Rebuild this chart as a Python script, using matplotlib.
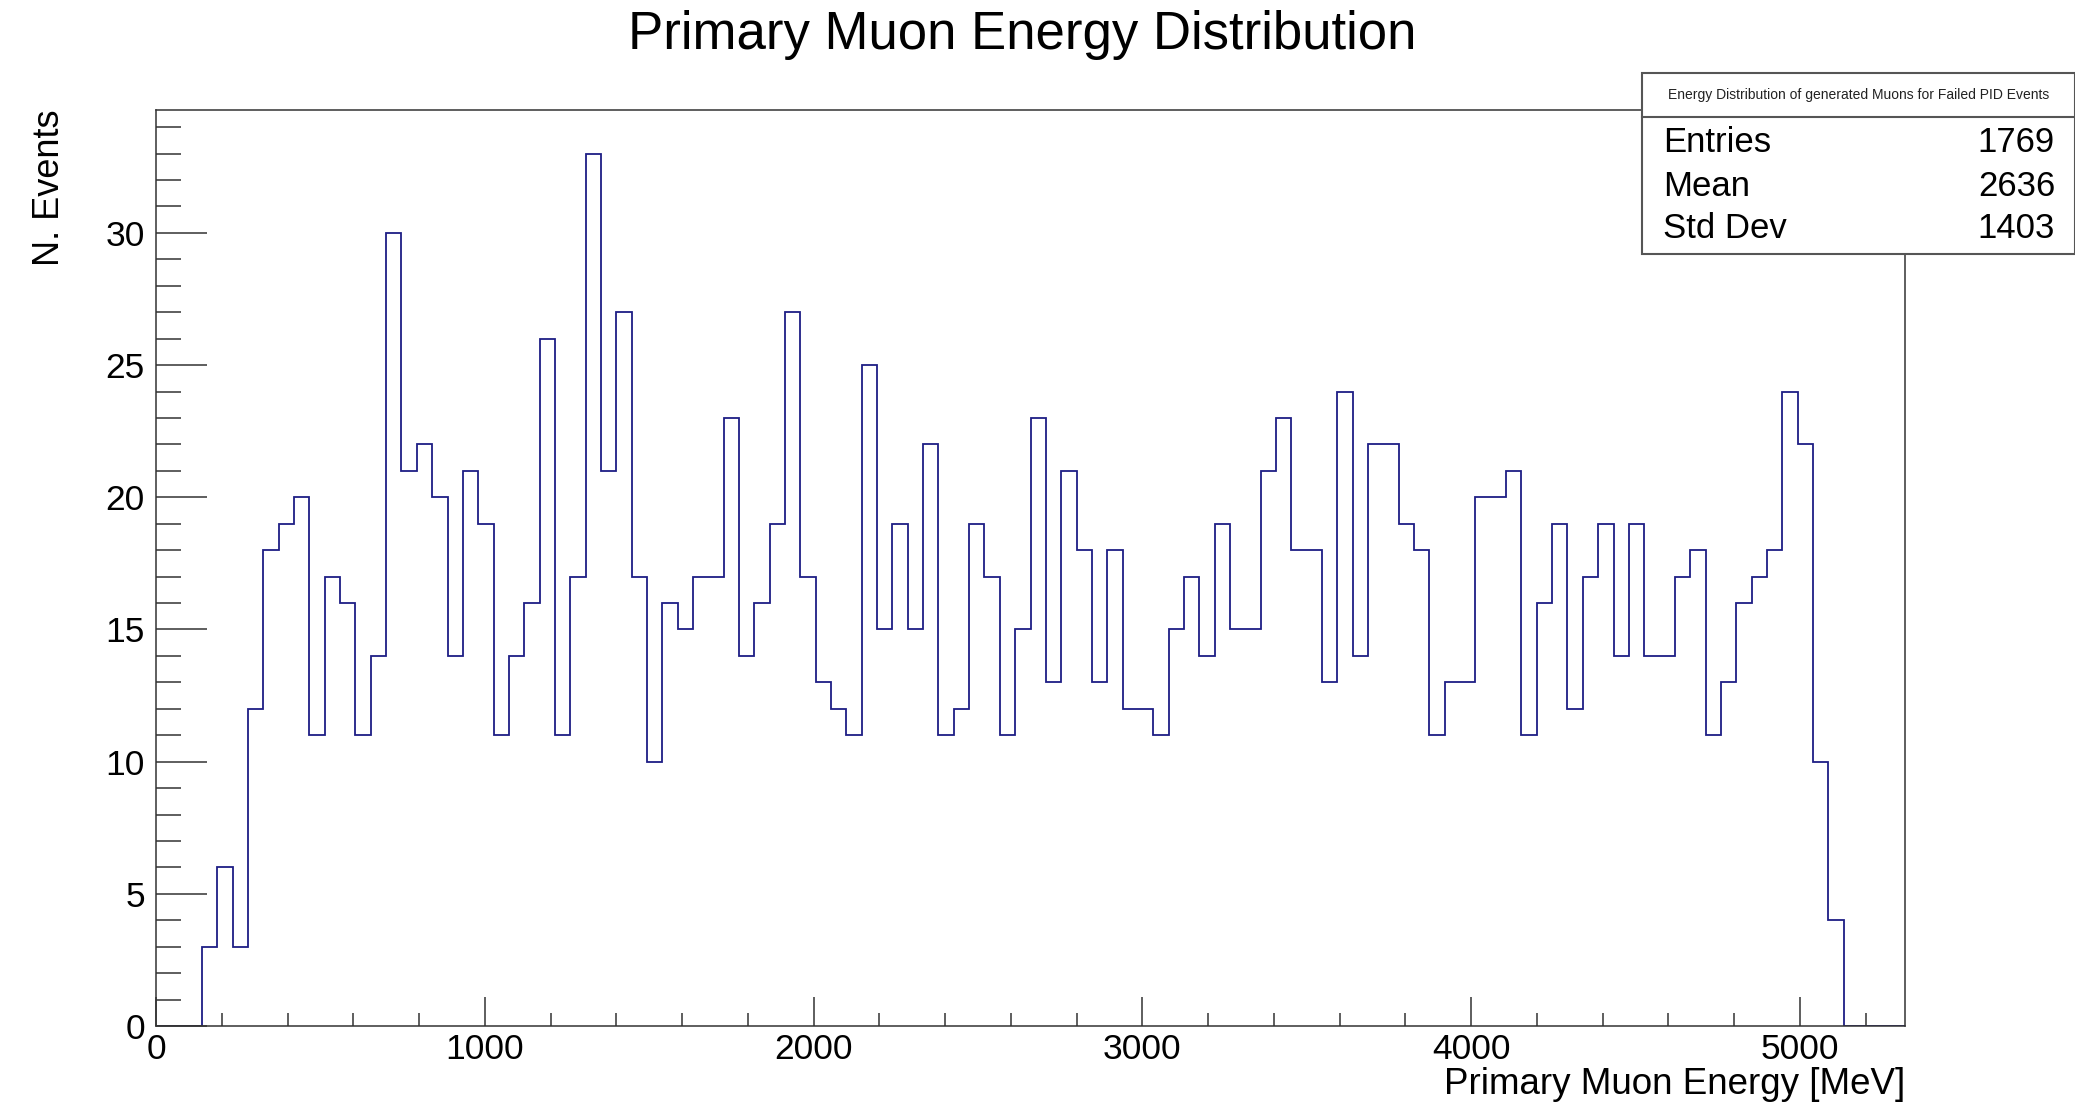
import numpy as np
import matplotlib
matplotlib.use("Agg")
import matplotlib.pyplot as plt
from matplotlib.ticker import MultipleLocator

plt.rcParams['font.family'] = ['Liberation Sans', 'DejaVu Sans']

# histogram: 114 bins from 0 to 5320 MeV, first 3 bins empty
x_min, x_max, n_bins = 0, 5320, 114
n_empty_low = 3
counts = [3, 6, 3, 12, 18, 19, 20, 11, 17, 16, 11, 14, 30, 21, 22, 20, 14, 21, 19, 11,
          14, 16, 26, 11, 17, 33, 21, 27, 17, 10, 16, 15, 17, 17, 23, 14, 16, 19, 27, 17,
          13, 12, 11, 25, 15, 19, 15, 22, 11, 12, 19, 17, 11, 15, 23, 13, 21, 18, 13, 18,
          12, 12, 11, 15, 17, 14, 19, 15, 15, 21, 23, 18, 18, 13, 24, 14, 22, 22, 19, 18,
          11, 13, 13, 20, 20, 21, 11, 16, 19, 12, 17, 19, 14, 19, 14, 14, 17, 18, 11, 13,
          16, 17, 18, 24, 22, 10, 4]

stats_title = 'Energy Distribution of generated Muons for Failed PID Events'
stats_names = ['Entries', 'Mean', 'Std Dev']
stats_values = ['1769', '2636', '1403']

edges = np.linspace(x_min, x_max, n_bins + 1)
vals = np.zeros(n_bins)
vals[n_empty_low:n_empty_low + len(counts)] = counts

fig = plt.figure(figsize=(20.75, 11.04), dpi=100)
ax = fig.add_axes([156/2075, 1 - 1026/1104, (1905-156)/2075, (1026-110)/1104])

ax.stairs(vals, edges, color='#1e1e85', lw=1.3)

ax.set_xlim(x_min, x_max)
ax.set_ylim(0, max(counts) * 1.05)

ax.xaxis.set_major_locator(MultipleLocator(1000))
ax.xaxis.set_minor_locator(MultipleLocator(200))
ax.yaxis.set_major_locator(MultipleLocator(5))
ax.yaxis.set_minor_locator(MultipleLocator(1))
ax.tick_params(which='both', direction='in', top=False, right=False, labelsize=25.5,
               width=1.1, color='#333333')
ax.tick_params(axis='x', which='major', length=21, pad=5)
ax.tick_params(axis='x', which='minor', length=9.5)
ax.tick_params(axis='y', which='major', length=37, pad=8)
ax.tick_params(axis='y', which='minor', length=18)
for s in ax.spines.values():
    s.set_linewidth(1.1)
    s.set_color('#333333')

# x title sits right-aligned just under the tick labels, like ROOT
fig.text(1905/2075, 1 - 1094/1104, 'Primary Muon Energy [MeV]', fontsize=26.5,
         ha='right', va='baseline')
ax.set_ylabel('N. Events', fontsize=26, loc='top', labelpad=28)

fig.text(1022/2075, 1 - 35/1104, 'Primary Muon Energy Distribution',
         fontsize=38, ha='center', va='center')

# stats box
bx0, by0, bx1, by1 = 1642/2075, 1 - 254/1104, 1.0, 1 - 73/1104
sep = 1 - 117/1104
fig.patches.append(plt.Rectangle((bx0, by0), bx1 - bx0, by1 - by0, transform=fig.transFigure,
                                 facecolor='white', edgecolor='#555555', lw=1.5, zorder=5))
fig.lines.append(plt.Line2D([bx0, bx1], [sep, sep], transform=fig.transFigure,
                            color='#555555', lw=1.5, zorder=6))
fig.text((bx0 + bx1) / 2, (sep + by1) / 2, stats_title, fontsize=10,
         ha='center', va='center', zorder=7, color='#222222')
row_y = [143, 186, 229]
for name, v, yy in zip(stats_names, stats_values, row_y):
    fig.text(1663/2075, 1 - yy/1104, name, fontsize=25, ha='left', va='center', zorder=7)
    fig.text(2055/2075, 1 - yy/1104, v, fontsize=25, ha='right', va='center', zorder=7)

fig.savefig('out.png', dpi=100)
